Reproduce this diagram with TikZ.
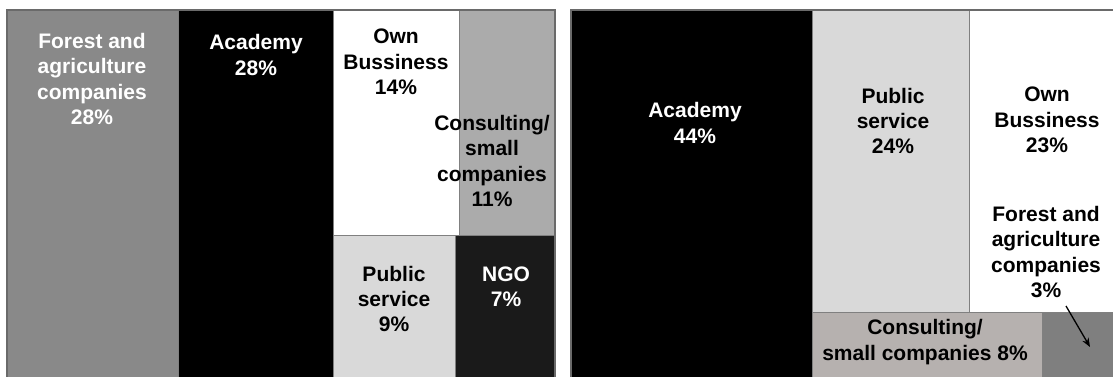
\documentclass[tikz,border=0pt]{standalone}
\usepackage{fontspec}
\setmainfont{Liberation Sans}
\usetikzlibrary{arrows.meta}
\definecolor{linegray}{HTML}{808080}
\definecolor{framegray}{HTML}{6A6A6A}
\definecolor{forestL}{HTML}{898989}
\definecolor{consL}{HTML}{ABABAB}
\definecolor{publicgray}{HTML}{D9D9D9}
\definecolor{ngoblack}{HTML}{1A1A1A}
\definecolor{consR}{HTML}{B6B1AF}
\definecolor{forestR}{HTML}{7F7F7F}

\begin{document}
\begin{tikzpicture}[
  x=1pt, y=-1pt,
  >={Stealth[length=9pt,width=7pt]},
  cell/.style={draw=linegray, line width=0.8pt},
  frame/.style={draw=framegray, line width=1.6pt},
  lab/.style={align=center, inner sep=0pt,
    font=\bfseries\fontsize{21}{25.3}\selectfont},
  wlab/.style={lab, text=white},
]
\useasboundingbox (0,0) rectangle (1113,376);
\clip (0,0) rectangle (1113,376);

% left panel
\filldraw[cell, fill=forestL]    (7,10)    rectangle (178,380);
\filldraw[cell, fill=black]      (178,10)  rectangle (333,380);
\filldraw[cell, fill=white]      (333,10)  rectangle (459,235);
\filldraw[cell, fill=consL]      (459,10)  rectangle (555,235);
\filldraw[cell, fill=publicgray] (333,235) rectangle (455,380);
\filldraw[cell, fill=ngoblack]   (455,235) rectangle (555,380);
\draw[frame] (7,10) rectangle (555,380);

\node[wlab] (forL) at (92,79)  {Forest and\\agriculture\\companies\\28\%};
\node[wlab] (acaL) at (256,55) {Academy\\28\%};
\node[lab]  (ownL) at (396,62) {Own\\Bussiness\\14\%};
\node[lab]  (conL) at (492,161) {Consulting/\\small\\companies\\11\%};
\node[lab]  (pubL) at (394,299) {Public\\service\\9\%};
\node[wlab] (ngoL) at (506,287) {NGO\\7\%};

% right panel
\filldraw[cell, fill=black]      (571,10)  rectangle (812,380);
\filldraw[cell, fill=publicgray] (812,10)  rectangle (969,312);
\filldraw[cell, fill=white]      (969,10)  rectangle (1120,312);
\filldraw[cell, fill=consR]      (812,312) rectangle (1042,380);
\filldraw[cell, fill=forestR]    (1042,312) rectangle (1120,380);
\draw[frame] (571,10) rectangle (1120,380);

\node[wlab] (acaR) at (695,123)  {Academy\\44\%};
\node[lab]  (pubR) at (893,121)  {Public\\service\\24\%};
\node[lab]  (ownR) at (1047,120) {Own\\Bussiness\\23\%};
\node[lab]  (forR) at (1046,252) {Forest and\\agriculture\\companies\\3\%};
\node[lab]  (conR) at (925,342)  {Consulting/\\small companies 8\%};

\coordinate (arrS) at (1066,306);
\coordinate (arrE) at (1090,347);
\draw[->, line width=1.3pt] (arrS) -- (arrE);

\end{tikzpicture}
\end{document}
